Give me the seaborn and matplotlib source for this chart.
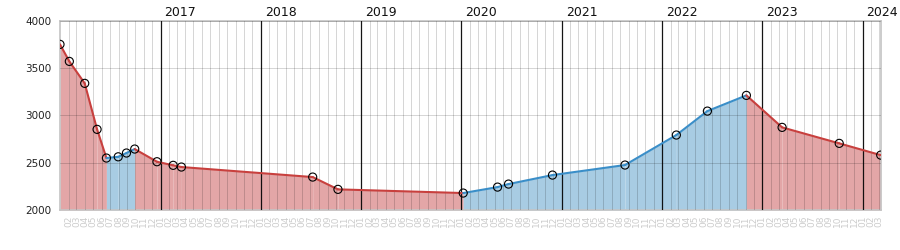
import matplotlib
matplotlib.use("Agg")
import matplotlib.pyplot as plt
import matplotlib.transforms as mtransforms
import numpy as np
import pandas as pd
import seaborn as sns

dates = ["2016-01-01", "2016-02-04", "2016-03-31", "2016-05-15", "2016-06-18",
         "2016-07-31", "2016-08-30", "2016-09-29", "2016-12-19", "2017-02-16",
         "2017-03-18", "2018-07-09", "2018-10-09", "2020-01-08", "2020-05-12",
         "2020-06-21", "2020-11-28", "2021-08-19", "2022-02-22", "2022-06-15",
         "2022-11-04", "2023-03-14", "2023-10-08", "2024-03-07"]
values = [3750, 3570, 3338, 2852, 2549,
          2562, 2602, 2644, 2510, 2472,
          2454, 2348, 2218, 2179, 2242,
          2274, 2369, 2475, 2792, 3045,
          3211, 2873, 2704, 2580]
years = [2017, 2018, 2019, 2020, 2021, 2022, 2023, 2024]
y_ticks = [2000, 2500, 3000, 3500, 4000]

df = pd.DataFrame({"date": pd.to_datetime(dates), "value": values})

sns.set_style("white")
plt.rcParams["font.family"] = ["DejaVu Sans"]

RED_LINE, RED_FILL = "#c8403e", "#e3a6a7"
BLUE_LINE, BLUE_FILL = "#3a8ec8", "#a8cce3"

fig = plt.figure(figsize=(9, 2.5), dpi=100)
ax = fig.add_axes([60 / 900, 1 - 210 / 250, (880.7 - 60) / 900, (210 - 20.7) / 250])

# fills and line segments coloured by direction
for i in range(len(df) - 1):
    seg = df.iloc[i:i + 2]
    up = seg["value"].iloc[1] > seg["value"].iloc[0]
    ax.fill_between(seg["date"], seg["value"], 2000,
                    color=BLUE_FILL if up else RED_FILL, linewidth=0, zorder=1)
    sns.lineplot(data=seg, x="date", y="value", ax=ax,
                 color=BLUE_LINE if up else RED_LINE, linewidth=1.5, zorder=3)

sns.scatterplot(data=df, x="date", y="value", ax=ax, marker="o", s=34,
                facecolor="none", edgecolor="black", linewidth=0.8, zorder=4)

ax.set_xlim(df["date"].iloc[0], df["date"].iloc[-1])
ax.set_ylim(2000, 4000)
ax.set_yticks(y_ticks)
ax.set_yticklabels([str(v) for v in y_ticks], fontsize=7.5, color="#222222")

month_ticks = pd.date_range("2016-02-01", "2024-03-01", freq="MS")
ax.set_xticks(month_ticks)
ax.set_xticklabels([d.strftime("%m") for d in month_ticks], rotation=90,
                   fontsize=6.5, color="#cccccc")
ax.tick_params(axis="both", length=0)
ax.tick_params(axis="x", pad=4)
ax.tick_params(axis="y", pad=6)

ax.set_axisbelow(False)
ax.grid(True, color="black", alpha=0.16, linewidth=0.72)

for y in years:
    ax.axvline(pd.Timestamp(f"{y}-01-01"), color="black", alpha=0.9,
               linewidth=0.9, zorder=2.6)
    tr = mtransforms.offset_copy(ax.get_xaxis_transform(), fig=fig, x=4, y=2, units="dots")
    ax.text(pd.Timestamp(f"{y}-01-01"), 1.0, str(y), transform=tr,
            ha="left", va="bottom", fontsize=9, color="#111111")

for s in ax.spines.values():
    s.set_color("#c4c4c4")
    s.set_linewidth(1.2)

ax.set_xlabel("")
ax.set_ylabel("")
fig.savefig("out.png", dpi=100)
